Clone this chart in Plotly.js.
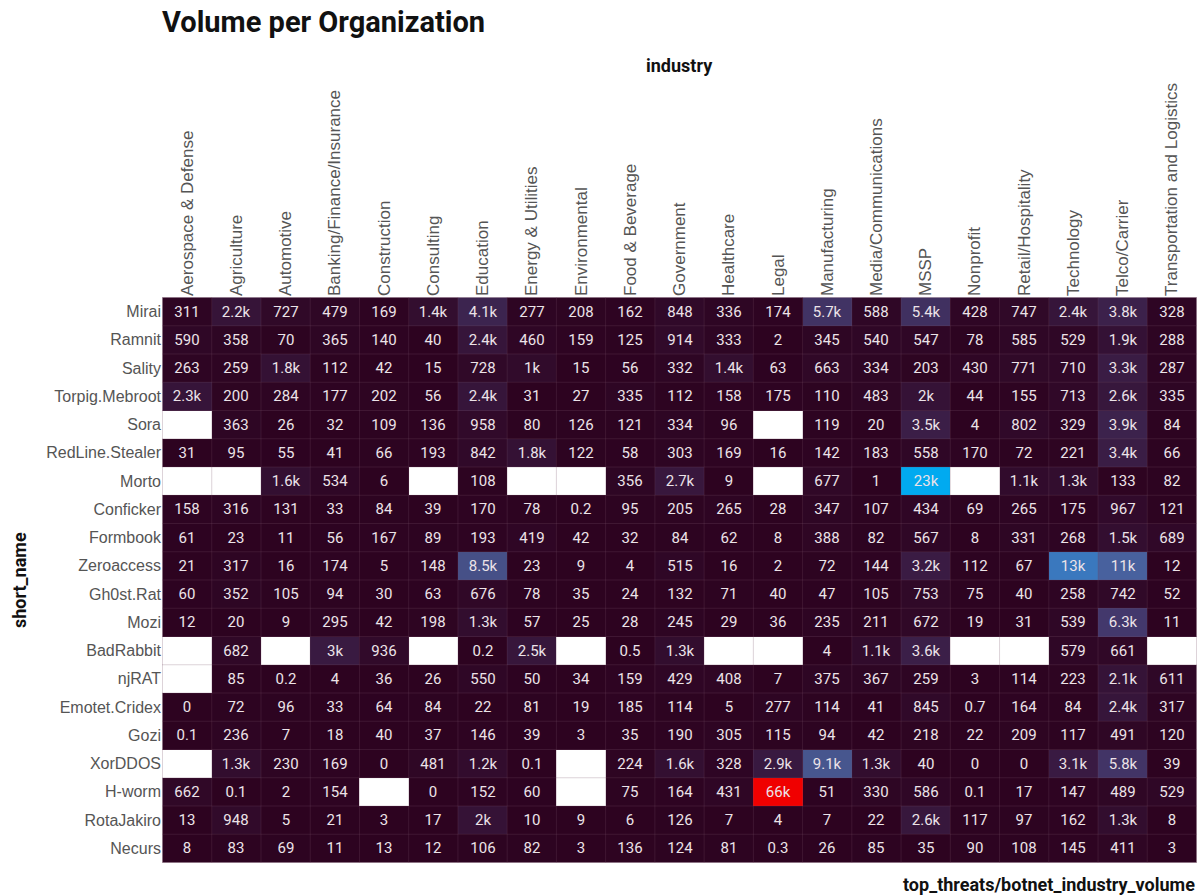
<!DOCTYPE html>
<html>
<head>
<meta charset="utf-8">
<script src="https://cdn.plot.ly/plotly-3.0.1.min.js"></script>
<style>html,body{margin:0;padding:0;background:#fff;}#chart{width:1199px;height:896px;}</style>
</head>
<body>
<div id="chart"></div>
<script>
const industries = ["Aerospace & Defense","Agriculture","Automotive","Banking/Finance/Insurance","Construction","Consulting","Education","Energy & Utilities","Environmental","Food & Beverage","Government","Healthcare","Legal","Manufacturing","Media/Communications","MSSP","Nonprofit","Retail/Hospitality","Technology","Telco/Carrier","Transportation and Logistics"];
const threats = ["Mirai","Ramnit","Sality","Torpig.Mebroot","Sora","RedLine.Stealer","Morto","Conficker","Formbook","Zeroaccess","Gh0st.Rat","Mozi","BadRabbit","njRAT","Emotet.Cridex","Gozi","XorDDOS","H-worm","RotaJakiro","Necurs"];

const mirai      = [311,2200,727,479,169,1400,4100,277,208,162,848,336,174,5700,588,5400,428,747,2400,3800,328];
const ramnit     = [590,358,70,365,140,40,2400,460,159,125,914,333,2,345,540,547,78,585,529,1900,288];
const sality     = [263,259,1800,112,42,15,728,1000,15,56,332,1400,63,663,334,203,430,771,710,3300,287];
const torpig     = [2300,200,284,177,202,56,2400,31,27,335,112,158,175,110,483,2000,44,155,713,2600,335];
const sora       = [null,363,26,32,109,136,958,80,126,121,334,96,null,119,20,3500,4,802,329,3900,84];
const redline    = [31,95,55,41,66,193,842,1800,122,58,303,169,16,142,183,558,170,72,221,3400,66];
const morto      = [null,null,1600,534,6,null,108,null,null,356,2700,9,null,677,1,23000,null,1100,1300,133,82];
const conficker  = [158,316,131,33,84,39,170,78,0.2,95,205,265,28,347,107,434,69,265,175,967,121];
const formbook   = [61,23,11,56,167,89,193,419,42,32,84,62,8,388,82,567,8,331,268,1500,689];
const zeroaccess = [21,317,16,174,5,148,8500,23,9,4,515,16,2,72,144,3200,112,67,13000,11000,12];
const gh0st      = [60,352,105,94,30,63,676,78,35,24,132,71,40,47,105,753,75,40,258,742,52];
const mozi       = [12,20,9,295,42,198,1300,57,25,28,245,29,36,235,211,672,19,31,539,6300,11];
const badrabbit  = [null,682,null,3000,936,null,0.2,2500,null,0.5,1300,null,null,4,1100,3600,null,null,579,661,null];
const njrat      = [null,85,0.2,4,36,26,550,50,34,159,429,408,7,375,367,259,3,114,223,2100,611];
const emotet     = [0,72,96,33,64,84,22,81,19,185,114,5,277,114,41,845,0.7,164,84,2400,317];
const gozi       = [0.1,236,7,18,40,37,146,39,3,35,190,305,115,94,42,218,22,209,117,491,120];
const xorddos    = [null,1300,230,169,0,481,1200,0.1,null,224,1600,328,2900,9100,1300,40,0,0,3100,5800,39];
const hworm      = [662,0.1,2,154,null,0,152,60,null,75,164,431,66000,51,330,586,0.1,17,147,489,529];
const rotajakiro = [13,948,5,21,3,17,2000,10,9,6,126,7,4,7,22,2600,117,97,162,1300,8];
const necurs     = [8,83,69,11,13,12,106,82,3,136,124,81,0.3,26,85,35,90,108,145,411,3];

const z = [mirai,ramnit,sality,torpig,sora,redline,morto,conficker,formbook,zeroaccess,gh0st,mozi,badrabbit,njrat,emotet,gozi,xorddos,hworm,rotajakiro,necurs];

function fmt(v){
  if (v === null) return "";
  if (v >= 1000){
    let s = (v/1000).toFixed(v >= 10000 ? 0 : 1);
    s = s.replace(/\.0$/, "");
    return s + "k";
  }
  return String(v);
}
const text = z.map(r => r.map(fmt));

const trace = {
  type: "heatmap",
  x: industries,
  y: threats,
  z: z,
  text: text,
  texttemplate: "%{text}",
  textfont: {family: "Roboto, 'Noto Sans', sans-serif", size: 15, color: "#ece3e8"},
  zmin: 0, zmax: 66000,
  colorscale: [
    [0, "#2d0320"],
    [0.05, "#3a1c44"],
    [0.095, "#43386c"],
    [0.138, "#47568e"],
    [0.167, "#48619e"],
    [0.197, "#3a78be"],
    [0.35, "#00aaf0"],
    [1, "#f00000"]
  ],
  showscale: false,
  hoverongaps: false
};

const nx = industries.length, ny = threats.length;
const shapes = [];
for (let i = 0; i <= nx; i++) {
  shapes.push({type:"line", xref:"x", yref:"paper", x0:i-0.5, x1:i-0.5, y0:0, y1:1, layer:"above",
    line:{color:"rgba(120,80,105,0.25)", width:1}});
}
for (let j = 0; j <= ny; j++) {
  shapes.push({type:"line", xref:"paper", yref:"y", x0:0, x1:1, y0:j-0.5, y1:j-0.5, layer:"above",
    line:{color:"rgba(120,80,105,0.25)", width:1}});
}

const layout = {
  width: 1199, height: 896,
  margin: {l:162, r:2, t:297, b:33},
  paper_bgcolor: "#ffffff",
  plot_bgcolor: "#ffffff",
  title: {text: "Volume per Organization", x: 162/1199, xref: "container", xanchor: "left",
    y: 1 - 22/896, yref: "container", yanchor: "middle",
    font: {family: "Roboto, sans-serif", size: 29, color: "#111", weight: 700}},
  xaxis: {
    side: "top", type: "category", tickangle: -90,
    tickfont: {family: "'Liberation Sans', Arial, sans-serif", size: 17, color: "#555"},
    showgrid: false, zeroline: false, showline: false, ticks: "", automargin: false
  },
  yaxis: {
    type: "category", autorange: "reversed",
    tickfont: {family: "'Liberation Sans', Arial, sans-serif", size: 16, color: "#555"},
    showgrid: false, zeroline: false, showline: false, ticks: "", automargin: false
  },
  shapes: shapes,
  annotations: [
    {text: "<b>industry</b>", xref: "paper", yref: "paper", x: 0.5, y: 1, yshift: 232, showarrow: false,
      xanchor: "center", yanchor: "middle", font: {family: "Roboto, sans-serif", size: 18, color: "#111"}},
    {text: "<b>short_name</b>", xref: "paper", yref: "paper", x: 0, xshift: -143, y: 0.5, textangle: -90, showarrow: false,
      xanchor: "center", yanchor: "middle", font: {family: "Roboto, sans-serif", size: 18, color: "#111"}},
    {text: "<b>top_threats/botnet_industry_volume</b>", xref: "paper", yref: "paper", x: 1, y: 0, yshift: -21, showarrow: false,
      xanchor: "right", yanchor: "middle", font: {family: "Roboto, sans-serif", size: 18, color: "#111"}}
  ]
};

Plotly.newPlot("chart", [trace], layout, {displayModeBar: false, staticPlot: true});
</script>
</body>
</html>
